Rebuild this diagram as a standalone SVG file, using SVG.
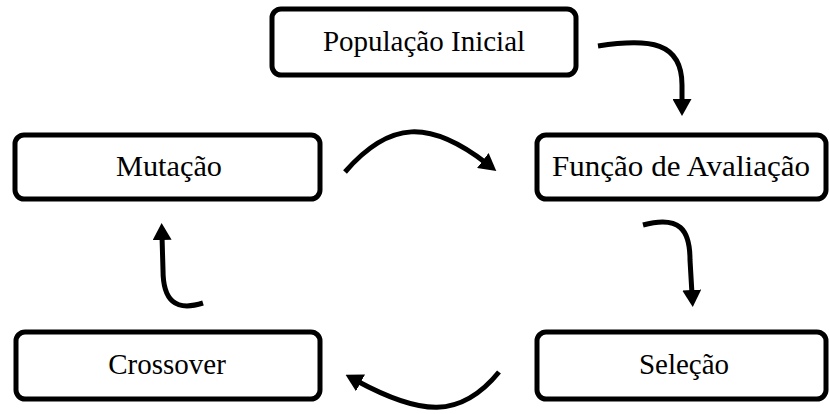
<svg xmlns="http://www.w3.org/2000/svg" width="829" height="414" viewBox="0 0 829 414">
<style>
.box{fill:#fff;stroke:#000;stroke-width:5}
.lbl{font-family:"Liberation Serif","Times New Roman",serif;font-size:29px;fill:#000;text-anchor:middle}
.arr{fill:none;stroke:#000;stroke-width:5;marker-end:url(#ah)}
</style>
<defs>
<marker id="ah" markerUnits="userSpaceOnUse" viewBox="0 0 17 19" markerWidth="17" markerHeight="19" refX="4" refY="9.5" orient="auto">
<path d="M0,0 L17,9.5 L0,19 z" fill="#000"/>
</marker>
</defs>
<rect width="829" height="414" fill="#fff"/>
<g id="pop"><rect class="box" x="272" y="9" width="304" height="66" rx="9"/><text class="lbl" x="424" y="51">População Inicial</text></g>
<g id="mut"><rect class="box" x="15" y="135" width="305" height="64" rx="9"/><text class="lbl" x="169" y="176" textLength="106" lengthAdjust="spacingAndGlyphs">Mutação</text></g>
<g id="fun"><rect class="box" x="537" y="135" width="289" height="64" rx="9"/><text class="lbl" x="681" y="176" textLength="258" lengthAdjust="spacingAndGlyphs">Função de Avaliação</text></g>
<g id="cro"><rect class="box" x="16" y="332" width="304" height="67" rx="9"/><text class="lbl" x="167" y="374">Crossover</text></g>
<g id="sel"><rect class="box" x="537" y="332" width="289" height="67" rx="9"/><text class="lbl" x="684" y="374">Seleção</text></g>
<g id="connectors">
<path class="arr" d="M598,46 C650,38 682,42 682,85 L682,103"/>
<path class="arr" d="M345,172 C390,120 430,120 486,163"/>
<path class="arr" d="M643,225 C680,215 690,230 690,260 L692,294"/>
<path class="arr" d="M499,372 C460,420 420,415 357,381"/>
<path class="arr" d="M203,303 C175,312 163,300 163,270 L162,236"/>
</g>
</svg>
